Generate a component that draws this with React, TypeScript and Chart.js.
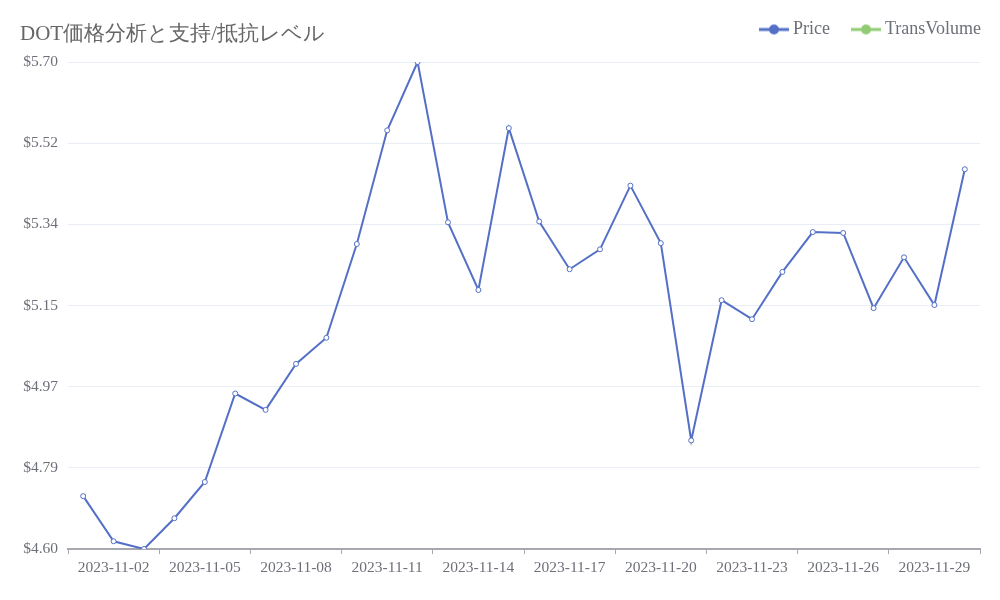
import React, { useEffect, useRef } from "react";
import { Chart, registerables } from "chart.js";

Chart.register(...registerables);

const titleText = "DOT価格分析と支持/抵抗レベル";
const categories = [
  "2023-11-01", "2023-11-02", "2023-11-03", "2023-11-04", "2023-11-05",
  "2023-11-06", "2023-11-07", "2023-11-08", "2023-11-09", "2023-11-10",
  "2023-11-11", "2023-11-12", "2023-11-13", "2023-11-14", "2023-11-15",
  "2023-11-16", "2023-11-17", "2023-11-18", "2023-11-19", "2023-11-20",
  "2023-11-21", "2023-11-22", "2023-11-23", "2023-11-24", "2023-11-25",
  "2023-11-26", "2023-11-27", "2023-11-28", "2023-11-29", "2023-11-30",
];
const priceValues = [
  4.722, 4.620, 4.6025, 4.672, 4.754, 4.954, 4.917, 5.021, 5.080, 5.292,
  5.549, 5.7035, 5.341, 5.188, 5.554, 5.343, 5.235, 5.280, 5.424, 5.294,
  4.848, 5.165, 5.122, 5.229, 5.319, 5.317, 5.147, 5.262, 5.154, 5.461,
];
const transVolumeValues: (number | null)[] = [];
const ySplits = 6;

const FONT = "'Liberation Serif', serif";
const TEXT = "#6e7079";
const BLUE = "#5470c6";
const GREEN = "#91cc75";

function makeIcon(color: string): HTMLCanvasElement {
  const c = document.createElement("canvas");
  c.width = 30;
  c.height = 12;
  const g = c.getContext("2d")!;
  g.strokeStyle = color;
  g.lineWidth = 3;
  g.beginPath();
  g.moveTo(0, 6);
  g.lineTo(30, 6);
  g.stroke();
  g.fillStyle = color;
  g.beginPath();
  g.arc(15, 6, 5, 0, Math.PI * 2);
  g.fill();
  return c;
}

const titlePlugin = {
  id: "leftTitle",
  beforeLayout(chart: any) {
    const lg = chart.legend;
    if (lg && !lg._patched) {
      const f = lg.fit;
      lg.fit = function () {
        f.call(this);
        this.height = 62;
      };
      lg._patched = true;
    }
  },
  afterLayout(chart: any) {
    const lg = chart.legend;
    if (lg) {
      lg.top -= 5.5;
      lg.bottom -= 5.5;
      lg.left += 27;
      lg.right += 27;
    }
  },
  afterDraw(chart: any) {
    const ctx = chart.ctx;
    ctx.save();
    ctx.font = `21px ${FONT}`;
    ctx.fillStyle = "#666";
    ctx.textBaseline = "middle";
    ctx.textAlign = "left";
    ctx.fillText(titleText, 20, 34);
    ctx.restore();
  },
};

export default function App() {
  const ref = useRef<HTMLCanvasElement | null>(null);
  useEffect(() => {
    document.body.style.margin = "0";
    const icons = [makeIcon(BLUE), makeIcon(GREEN)];
    const yMin = Math.min(...priceValues);
    const yMax = Math.max(...priceValues);
    const chart = new Chart(ref.current!, {
      type: "line",
      data: {
        labels: categories,
        datasets: [
          {
            label: "Price",
            data: priceValues,
            borderColor: BLUE,
            backgroundColor: BLUE,
            borderWidth: 2,
            pointRadius: 2.5,
            pointBorderWidth: 1,
            pointBackgroundColor: "#fff",
            pointBorderColor: BLUE,
            tension: 0,
          },
          {
            label: "TransVolume",
            data: transVolumeValues,
            borderColor: GREEN,
            backgroundColor: GREEN,
            borderWidth: 2,
          },
        ],
      },
      options: {
        animation: false,
        responsive: false,
        layout: { padding: { top: 0, left: 20, right: 20, bottom: 20 } },
        plugins: {
          title: { display: false },
          tooltip: { enabled: false },
          legend: {
            position: "top",
            align: "end",
            onClick: () => {},
            labels: {
              usePointStyle: true,
              pointStyleWidth: 20,
              padding: 26,
              color: TEXT,
              font: { family: FONT, size: 18 },
              generateLabels: (ch: any) =>
                ch.data.datasets.map((ds: any, i: number) => ({
                  text: ds.label,
                  fillStyle: ds.borderColor,
                  strokeStyle: ds.borderColor,
                  fontColor: TEXT,
                  lineWidth: 0,
                  pointStyle: icons[i],
                  datasetIndex: i,
                  hidden: false,
                })),
            },
          },
        },
        scales: {
          x: {
            type: "category",
            offset: true,
            afterFit: (s: any) => {
              s.height = 31;
            },
            grid: {
              display: true,
              offset: true,
              drawOnChartArea: false,
              drawTicks: true,
              tickLength: 5,
              lineWidth: 1,
              tickColor: (c: any) =>
                c.index === undefined || c.index % 3 === 0 ? "#a8a8b0" : "rgba(0,0,0,0)",
            },
            border: { display: true, color: "#a8a8b0", width: 2 },
            ticks: {
              autoSkip: false,
              maxRotation: 0,
              padding: 5,
              color: TEXT,
              font: { family: FONT, size: 15.5 },
              callback: (_v: any, i: number) => (i % 3 === 1 ? categories[i] : ""),
            },
          },
          y: {
            type: "linear",
            min: yMin,
            max: yMax,
            afterFit: (s: any) => {
              s.width = 48;
            },
            afterBuildTicks: (scale: any) => {
              const step = (yMax - yMin) / ySplits;
              const t = [];
              for (let k = 0; k <= ySplits; k++) t.push({ value: yMin + step * k });
              scale.ticks = t;
            },
            grid: { color: "#e9edf5", lineWidth: 1, drawTicks: false },
            border: { display: false },
            ticks: {
              padding: 10,
              color: TEXT,
              font: { family: FONT, size: 15.5 },
              callback: (v: any) => "$" + Number(v).toFixed(2),
            },
          },
        },
      },
      plugins: [titlePlugin],
    });
    return () => chart.destroy();
  }, []);
  return (
    <div style={{ width: 1000, height: 600 }}>
      <canvas ref={ref} width={1000} height={600} style={{ display: "block" }} />
    </div>
  );
}
